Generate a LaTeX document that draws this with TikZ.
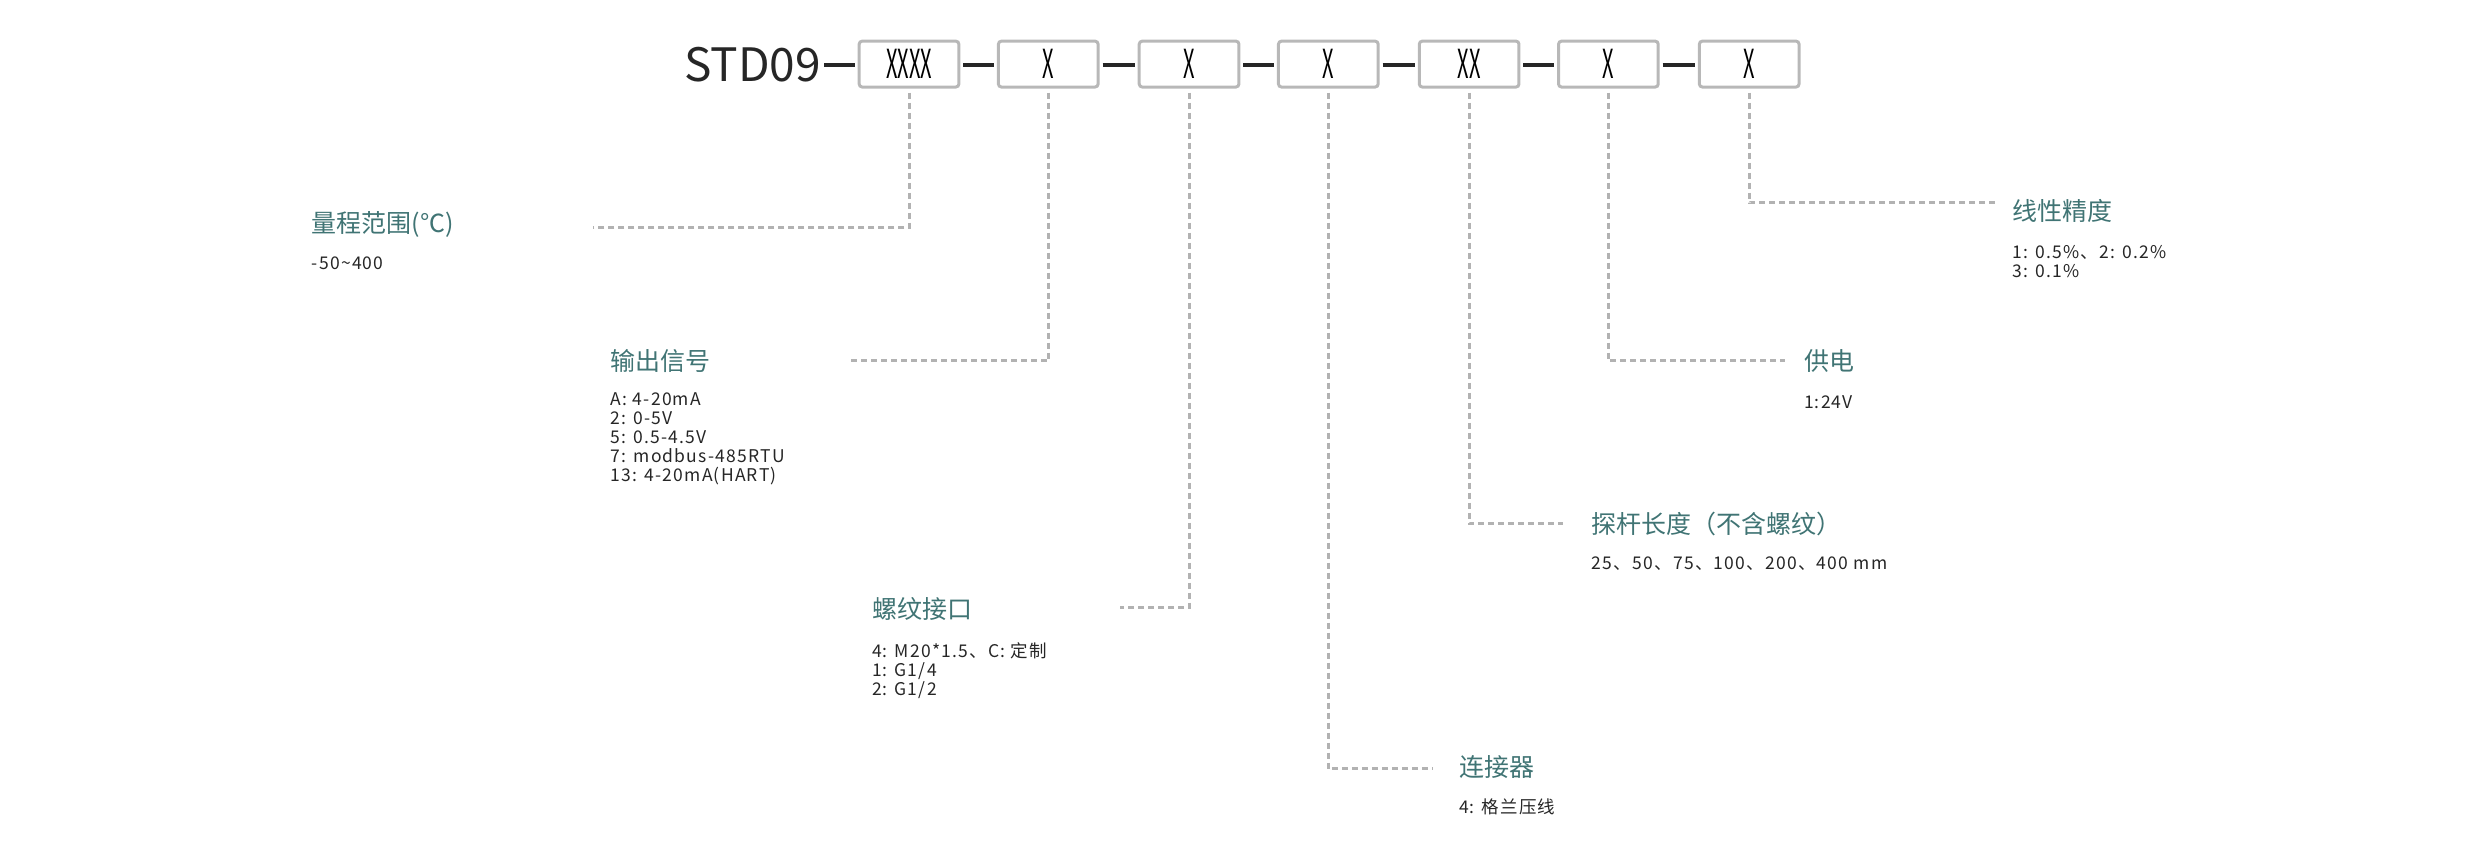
\documentclass[tikz,border=0pt]{standalone}
\usepackage{fontspec}
\setmainfont{Noto Sans CJK SC}
\newfontfamily\inffont[LetterSpace=7]{Noto Sans CJK SC}
\begin{document}
\begin{tikzpicture}[x=1.5823pt,y=-1.5823pt,
  box/.style={draw=black!28,line width=3pt,rounded corners=3pt,minimum width=63*1.5823pt,minimum height=29*1.5823pt,inner sep=0pt,font=\fontsize{40}{40}\selectfont},
  lead/.style={draw=black!30,line width=3pt,dash pattern=on 6pt off 4pt},
  ttl/.style={anchor=west,inner sep=0pt,text=teal!55!black!75,font=\fontsize{25}{25}\selectfont},
  inf/.style={anchor=north west,inner sep=0pt,align=left,text=black!85,font=\inffont\fontsize{17.5}{19}\selectfont}]
\useasboundingbox (0,0) rectangle (1568,543);
\node[anchor=east,inner sep=0pt,font=\fontsize{46}{46}\selectfont,text=black!85] (std) at (519,41) {STD09};
\foreach \i/\x/\t in {1/574.5/XXXX,2/662.5/X,3/751.5/X,4/839.5/X,5/928.5/XX,6/1016.5/X,7/1105.5/X}{
  \node[box] (b\i) at (\x,40.5) {\scalebox{0.5}[1]{\t}};
}
\foreach \a/\b in {std/b1,b1/b2,b2/b3,b3/b4,b4/b5,b5/b6,b6/b7}
  \draw[line width=4pt,black!85,shorten <=3pt,shorten >=3pt] (\a.east|-0,41) -- (\b.west|-0,41);
% targets
\coordinate (e1) at (375,144); \coordinate (e2) at (535,228); \coordinate (e3) at (708,384);
\coordinate (e4) at (905,486); \coordinate (e5) at (988,331); \coordinate (e6) at (1128,228);
\coordinate (e7) at (1262,128);
\foreach \i in {1,...,7} \draw[lead] ([yshift=-4pt]b\i.south) |- (e\i);
\node[ttl] (t1) at (197,142) {量程范围(℃)};
\node[inf] (i1) at (197,162) {-50\char"007E\relax 400};
\node[ttl] (t2) at (386,228) {输出信号};
\node[inf] (i2) at (386,248) {A: 4-20mA\\2: 0-5V\\5: 0.5-4.5V\\7: modbus-485RTU\\13: 4-20mA(HART)};
\node[ttl] (t3) at (551,385) {螺纹接口};
\node[inf] (i3) at (551,406) {4: M20*1.5、C: 定制\\1: G1/4\\2: G1/2};
\node[ttl] (t4) at (922,485) {连接器};
\node[inf] (i4) at (922,505) {4: 格兰压线};
\node[ttl] (t5) at (1006,331) {探杆长度（不含螺纹）};
\node[inf] (i5) at (1006,352) {25、50、75、100、200、400 mm};
\node[ttl] (t6) at (1140,228) {供电};
\node[inf] (i6) at (1140,250) {1:24V};
\node[ttl] (t7) at (1272,133) {线性精度};
\node[inf] (i7) at (1272,155) {1: 0.5\%、2: 0.2\%\\3: 0.1\%};
\end{tikzpicture}
\end{document}
